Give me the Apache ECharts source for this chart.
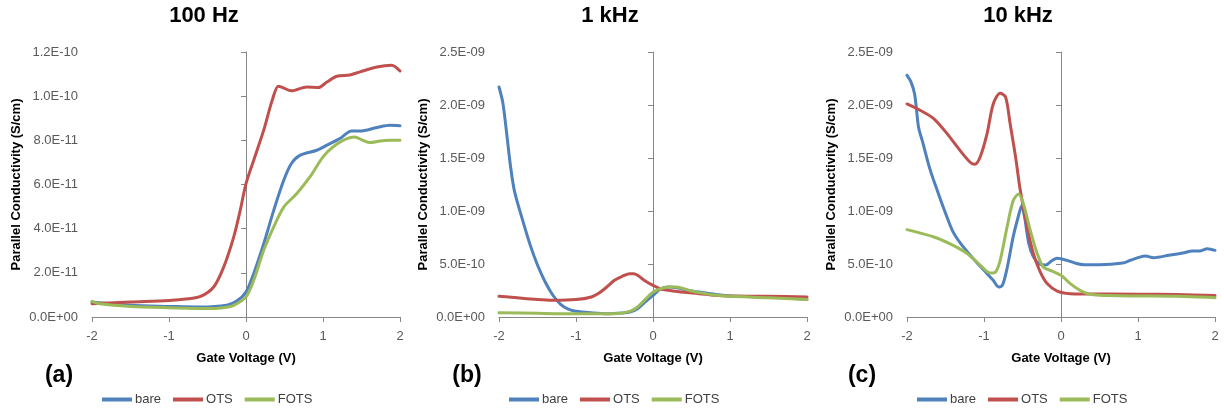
<!DOCTYPE html>
<html>
<head>
<meta charset="utf-8">
<script src="https://cdn.jsdelivr.net/npm/echarts@6/dist/echarts.min.js"></script>
<style>
html,body{margin:0;padding:0;background:#fff;}
#chart{width:1224px;height:413px;}
</style>
</head>
<body>
<div id="chart"></div>
<script>
// ---- Data ----
const panelTitles = ['100 Hz', '1 kHz', '10 kHz'];
const panelLabels = ['(a)', '(b)', '(c)'];
const seriesNames = ['bare', 'OTS', 'FOTS'];
const xTicks = [-2, -1, 0, 1, 2];
const yMaxes = [1.2e-10, 2.5e-9, 2.5e-9];
const yIntervals = [2e-11, 5e-10, 5e-10];

// 100 Hz  [gate voltage (V), parallel conductivity (S/cm)]
const hz100_bare = [[-2,0.68e-11],[-1.5,0.53e-11],[-1,0.48e-11],[-0.59,0.45e-11],[-0.25,0.53e-11],[-0.12,0.72e-11],[0,1.13e-11],[0.1,1.97e-11],[0.23,3.32e-11],[0.36,4.83e-11],[0.49,6.19e-11],[0.59,6.95e-11],[0.7,7.32e-11],[0.92,7.55e-11],[1.05,7.78e-11],[1.22,8.08e-11],[1.37,8.42e-11],[1.48,8.42e-11],[1.7,8.58e-11],[1.87,8.68e-11],[2.0,8.66e-11]];
const hz100_OTS = [[-2,0.6e-11],[-1.5,0.68e-11],[-1,0.75e-11],[-0.75,0.83e-11],[-0.59,0.93e-11],[-0.42,1.36e-11],[-0.29,2.26e-11],[-0.16,3.62e-11],[-0.075,4.83e-11],[0,6.04e-11],[0.1,7.1e-11],[0.23,8.46e-11],[0.34,9.81e-11],[0.42,10.45e-11],[0.47,10.4e-11],[0.59,10.24e-11],[0.79,10.42e-11],[0.94,10.39e-11],[1.05,10.64e-11],[1.18,10.9e-11],[1.35,10.96e-11],[1.48,11.1e-11],[1.7,11.32e-11],[1.89,11.4e-11],[2.0,11.14e-11]];
const hz100_FOTS = [[-2,0.71e-11],[-1.9,0.6e-11],[-1.5,0.48e-11],[-1,0.42e-11],[-0.5,0.38e-11],[-0.3,0.42e-11],[-0.16,0.53e-11],[0,0.91e-11],[0.1,1.66e-11],[0.23,3.02e-11],[0.36,4.08e-11],[0.49,4.98e-11],[0.66,5.59e-11],[0.83,6.34e-11],[1.0,7.25e-11],[1.13,7.7e-11],[1.26,8.0e-11],[1.41,8.15e-11],[1.52,8.0e-11],[1.61,7.9e-11],[1.74,7.97e-11],[1.87,8.0e-11],[2.0,8.0e-11]];

// 1 kHz
const khz1_bare = [[-2,21.7e-10],[-1.95,20.2e-10],[-1.9,17.3e-10],[-1.85,14.2e-10],[-1.8,11.9e-10],[-1.7,9.3e-10],[-1.6,6.9e-10],[-1.5,4.9e-10],[-1.4,3.3e-10],[-1.3,2.05e-10],[-1.2,1.2e-10],[-1.1,0.75e-10],[-1.0,0.55e-10],[-0.8,0.4e-10],[-0.6,0.31e-10],[-0.4,0.38e-10],[-0.3,0.47e-10],[-0.2,0.79e-10],[-0.1,1.42e-10],[0,2.04e-10],[0.1,2.67e-10],[0.2,2.83e-10],[0.3,2.77e-10],[0.5,2.45e-10],[0.6,2.36e-10],[0.8,2.14e-10],[1.0,1.98e-10],[1.5,1.89e-10],[2.0,1.67e-10]];
const khz1_OTS = [[-2,1.95e-10],[-1.5,1.64e-10],[-1.3,1.57e-10],[-1.0,1.64e-10],[-0.8,1.89e-10],[-0.7,2.26e-10],[-0.6,2.83e-10],[-0.5,3.46e-10],[-0.4,3.84e-10],[-0.3,4.09e-10],[-0.25,4.09e-10],[-0.2,3.93e-10],[-0.1,3.4e-10],[0,2.99e-10],[0.1,2.64e-10],[0.2,2.52e-10],[0.4,2.33e-10],[0.6,2.2e-10],[0.8,2.04e-10],[1.0,1.98e-10],[1.5,1.95e-10],[2.0,1.89e-10]];
const khz1_FOTS = [[-2,0.41e-10],[-1.5,0.35e-10],[-1.0,0.31e-10],[-0.5,0.31e-10],[-0.3,0.53e-10],[-0.2,0.94e-10],[-0.1,1.67e-10],[0,2.33e-10],[0.1,2.67e-10],[0.2,2.83e-10],[0.3,2.83e-10],[0.4,2.67e-10],[0.5,2.45e-10],[0.6,2.3e-10],[0.8,2.08e-10],[1.0,1.95e-10],[1.5,1.82e-10],[2.0,1.64e-10]];

// 10 kHz
const khz10_bare = [[-2,22.8e-10],[-1.95,22.2e-10],[-1.9,21.0e-10],[-1.85,17.9e-10],[-1.8,16.6e-10],[-1.7,13.9e-10],[-1.6,11.8e-10],[-1.5,9.8e-10],[-1.4,8.0e-10],[-1.3,6.9e-10],[-1.15,5.6e-10],[-1.0,4.4e-10],[-0.88,3.46e-10],[-0.81,2.83e-10],[-0.76,3.0e-10],[-0.7,4.6e-10],[-0.62,7.6e-10],[-0.55,9.6e-10],[-0.51,10.5e-10],[-0.47,9.3e-10],[-0.42,7.0e-10],[-0.36,5.7e-10],[-0.28,5.0e-10],[-0.2,4.9e-10],[-0.12,5.3e-10],[-0.05,5.55e-10],[0,5.5e-10],[0.1,5.3e-10],[0.2,5.05e-10],[0.3,4.94e-10],[0.5,4.94e-10],[0.8,5.09e-10],[0.9,5.35e-10],[1.0,5.6e-10],[1.1,5.75e-10],[1.2,5.6e-10],[1.4,5.82e-10],[1.6,6.07e-10],[1.7,6.23e-10],[1.8,6.23e-10],[1.9,6.45e-10],[2.0,6.29e-10]];
const khz10_OTS = [[-2,20.1e-10],[-1.83,19.5e-10],[-1.65,18.7e-10],[-1.48,17.3e-10],[-1.31,15.7e-10],[-1.18,14.6e-10],[-1.12,14.4e-10],[-1.05,15.1e-10],[-0.96,17.3e-10],[-0.88,20.1e-10],[-0.79,21.1e-10],[-0.72,20.75e-10],[-0.66,18.2e-10],[-0.59,15.1e-10],[-0.53,12.0e-10],[-0.44,8.5e-10],[-0.36,6.0e-10],[-0.27,4.25e-10],[-0.18,3.15e-10],[-0.05,2.45e-10],[0.12,2.2e-10],[0.3,2.17e-10],[1.0,2.15e-10],[1.5,2.12e-10],[2.0,2.02e-10]];
const khz10_FOTS = [[-2,8.24e-10],[-1.65,7.55e-10],[-1.44,6.9e-10],[-1.22,6.0e-10],[-1.05,4.9e-10],[-0.92,4.15e-10],[-0.85,4.25e-10],[-0.79,5.35e-10],[-0.7,8.5e-10],[-0.62,11.0e-10],[-0.55,11.6e-10],[-0.49,10.7e-10],[-0.4,8.2e-10],[-0.31,6.0e-10],[-0.23,4.7e-10],[-0.14,4.4e-10],[0,3.93e-10],[0.12,3.15e-10],[0.25,2.5e-10],[0.35,2.2e-10],[0.5,2.05e-10],[1.0,1.98e-10],[1.5,1.95e-10],[2.0,1.82e-10]];

const panelData = [
  [hz100_bare, hz100_OTS, hz100_FOTS],
  [khz1_bare, khz1_OTS, khz1_FOTS],
  [khz10_bare, khz10_OTS, khz10_FOTS]
];

// ---- Style / layout ----
const colors = ['#4F81BD', '#C0504D', '#9BBB59'];
const FONT = 'Liberation Sans, Arial, sans-serif';
const gridLefts = [92, 499, 907];
const gridW = 308, gridTop = 52, gridH = 265;
const titleCenters = [204, 610, 1018];
const labelCenters = [59, 467, 862];
const axisColor = '#868686';

function fmtExp(v) {
  let s = Number(v).toExponential(1).toUpperCase();
  return s.replace(/E([+-])(\d)$/, 'E$10$2');
}

const grid = [], xAxis = [], yAxis = [], series = [], title = [], legend = [], graphic = [];
for (let p = 0; p < 3; p++) {
  grid.push({ left: gridLefts[p], top: gridTop, width: gridW, height: gridH, containLabel: false });
  title.push({
    text: panelTitles[p], left: titleCenters[p], top: 5, textAlign: 'center', padding: 0,
    textStyle: { fontFamily: FONT, fontSize: 22, fontWeight: 'bold', color: '#000' }
  });
  xAxis.push({
    gridIndex: p, type: 'value', min: xTicks[0], max: xTicks[xTicks.length - 1], interval: 1,
    axisLine: { show: true, onZero: true, lineStyle: { color: axisColor, width: 1 } },
    axisTick: { show: true, length: 5, lineStyle: { color: axisColor } },
    axisLabel: { margin: 13, color: '#595959', fontFamily: FONT, fontSize: 13 },
    splitLine: { show: false },
    name: 'Gate Voltage (V)', nameLocation: 'middle', nameGap: 35,
    nameTextStyle: { fontFamily: FONT, fontSize: 13, fontWeight: 'bold', color: '#000' }
  });
  // label axis (left edge of plot)
  yAxis.push({
    gridIndex: p, type: 'value', min: 0, max: yMaxes[p], interval: yIntervals[p], position: 'left',
    axisLine: { show: false, onZero: false },
    axisTick: { show: false },
    axisLabel: { margin: 14, color: '#595959', fontFamily: FONT, fontSize: 13, formatter: fmtExp },
    splitLine: { show: false },
    name: 'Parallel Conductivity (S/cm)', nameLocation: 'middle', nameGap: 69,
    nameTextStyle: { fontFamily: FONT, fontSize: 13, fontWeight: 'bold', color: '#000' }
  });
  // vertical axis line crossing at x = 0
  yAxis.push({
    gridIndex: p, type: 'value', min: 0, max: yMaxes[p], interval: yIntervals[p], position: 'left',
    axisLine: { show: true, onZero: true, lineStyle: { color: axisColor, width: 1 } },
    axisTick: { show: true, length: 5, lineStyle: { color: axisColor } },
    axisLabel: { show: false },
    splitLine: { show: false }
  });
  for (let s = 0; s < 3; s++) {
    series.push({
      name: seriesNames[s], type: 'line', xAxisIndex: p, yAxisIndex: p * 2,
      data: panelData[p][s], smooth: 0.3, showSymbol: false, symbol: 'none',
      lineStyle: { color: colors[s], width: 3, cap: 'round', join: 'round' },
      itemStyle: { color: colors[s] }, animation: false
    });
  }
  legend.push({
    data: seriesNames, left: gridLefts[p] + 10, top: 393, padding: 0, itemGap: 12,
    icon: 'rect', itemWidth: 30, itemHeight: 4,
    textStyle: { fontFamily: FONT, fontSize: 13, color: '#404040', padding: [0, 0, 0, -2] }
  });
  graphic.push({
    type: 'text', x: labelCenters[p], y: 376,
    style: { text: panelLabels[p], font: 'bold 23px ' + FONT, fill: '#000', align: 'center', verticalAlign: 'middle' }
  });
}

const chart = echarts.init(document.getElementById('chart'), null, { renderer: 'canvas' });
chart.setOption({
  backgroundColor: '#fff', animation: false, color: colors,
  title, legend, grid, xAxis, yAxis, series, graphic
});
</script>
</body>
</html>
